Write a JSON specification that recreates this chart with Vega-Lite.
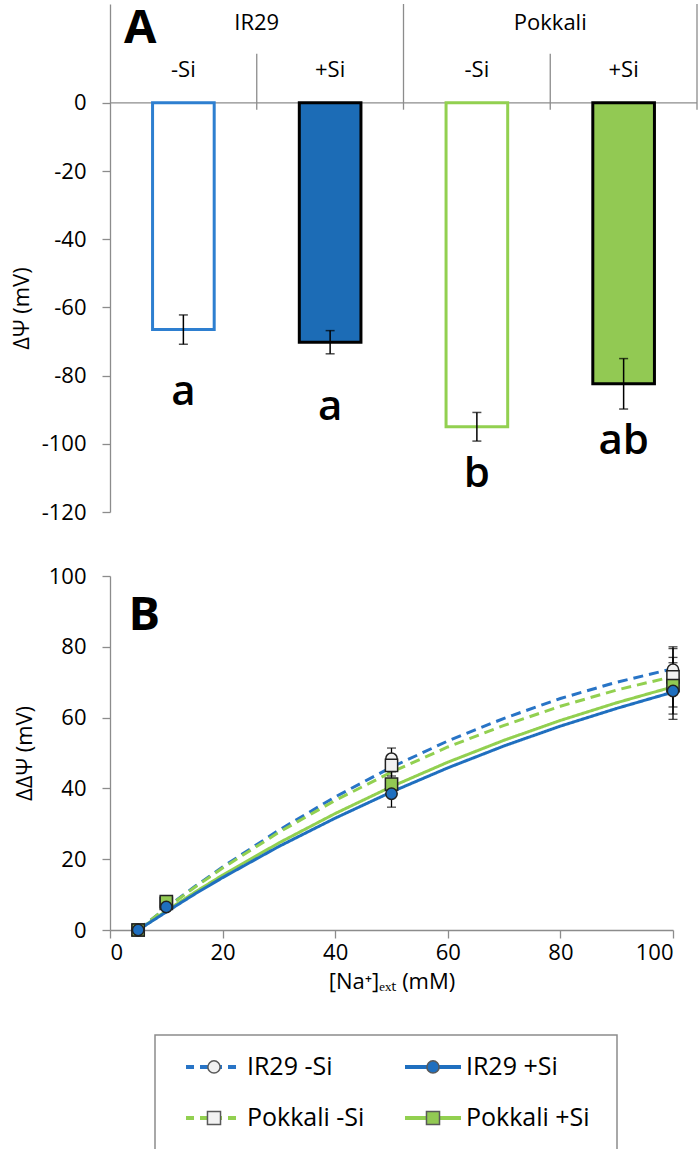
{
  "$schema": "https://vega.github.io/schema/vega-lite/v6.json",
  "background": "white",
  "padding": {"left": 10, "top": 3, "right": 0, "bottom": 0},
  "spacing": 42,
  "config": {
    "view": {"stroke": null},
    "font": "Open Sans",
    "axis": {"grid": false, "domainColor": "#8c8c8c", "domainWidth": 1.3, "tickColor": "#8c8c8c", "tickWidth": 1.3, "tickSize": 8, "labelFont": "Open Sans", "labelFontSize": 22, "labelColor": "#000000", "labelPadding": 16, "titleFont": "Open Sans", "titleFontSize": 22, "titleFontWeight": "normal", "titleColor": "#000000"},
    "text": {"font": "Open Sans", "color": "#000000"}
  },
  "resolve": {"scale": {"x": "independent", "y": "independent", "color": "independent", "fill": "independent", "stroke": "independent", "shape": "independent", "size": "independent", "strokeDash": "independent"}},
  "datasets": {
    "bars": [
      {"grp": "IR29 -Si", "genotype": "IR29", "si": "-Si", "mean": -66.5, "lo": -70.8, "hi": -62.2, "letter": "a", "letter_y": -88.5},
      {"grp": "IR29 +Si", "genotype": "IR29", "si": "+Si", "mean": -70.2, "lo": -73.6, "hi": -66.8, "letter": "a", "letter_y": -92.9},
      {"grp": "Pokkali -Si", "genotype": "Pokkali", "si": "-Si", "mean": -95.0, "lo": -99.2, "hi": -90.8, "letter": "b", "letter_y": -112.8},
      {"grp": "Pokkali +Si", "genotype": "Pokkali", "si": "+Si", "mean": -82.4, "lo": -89.8, "hi": -75.0, "letter": "ab", "letter_y": -103.0}
    ],
    "curves": [
      {"series": "IR29 -Si", "x": 5, "y": 0}, {"series": "IR29 -Si", "x": 10, "y": 6.3}, {"series": "IR29 -Si", "x": 15, "y": 12.2}, {"series": "IR29 -Si", "x": 20, "y": 17.8}, {"series": "IR29 -Si", "x": 30, "y": 28.2}, {"series": "IR29 -Si", "x": 40, "y": 37.6}, {"series": "IR29 -Si", "x": 50, "y": 46.0}, {"series": "IR29 -Si", "x": 60, "y": 53.4}, {"series": "IR29 -Si", "x": 70, "y": 59.8}, {"series": "IR29 -Si", "x": 80, "y": 65.4}, {"series": "IR29 -Si", "x": 90, "y": 70.0}, {"series": "IR29 -Si", "x": 100, "y": 73.8},
      {"series": "Pokkali -Si", "x": 5, "y": 0}, {"series": "Pokkali -Si", "x": 10, "y": 6.2}, {"series": "Pokkali -Si", "x": 15, "y": 12.0}, {"series": "Pokkali -Si", "x": 20, "y": 17.5}, {"series": "Pokkali -Si", "x": 30, "y": 27.6}, {"series": "Pokkali -Si", "x": 40, "y": 36.6}, {"series": "Pokkali -Si", "x": 50, "y": 44.6}, {"series": "Pokkali -Si", "x": 60, "y": 51.7}, {"series": "Pokkali -Si", "x": 70, "y": 57.8}, {"series": "Pokkali -Si", "x": 80, "y": 63.2}, {"series": "Pokkali -Si", "x": 90, "y": 67.8}, {"series": "Pokkali -Si", "x": 100, "y": 71.6},
      {"series": "Pokkali +Si", "x": 5, "y": 0}, {"series": "Pokkali +Si", "x": 10, "y": 5.4}, {"series": "Pokkali +Si", "x": 15, "y": 10.6}, {"series": "Pokkali +Si", "x": 20, "y": 15.5}, {"series": "Pokkali +Si", "x": 30, "y": 24.6}, {"series": "Pokkali +Si", "x": 40, "y": 32.9}, {"series": "Pokkali +Si", "x": 50, "y": 40.5}, {"series": "Pokkali +Si", "x": 60, "y": 47.4}, {"series": "Pokkali +Si", "x": 70, "y": 53.6}, {"series": "Pokkali +Si", "x": 80, "y": 59.2}, {"series": "Pokkali +Si", "x": 90, "y": 64.2}, {"series": "Pokkali +Si", "x": 100, "y": 68.7},
      {"series": "IR29 +Si", "x": 5, "y": 0}, {"series": "IR29 +Si", "x": 10, "y": 5.1}, {"series": "IR29 +Si", "x": 15, "y": 10.1}, {"series": "IR29 +Si", "x": 20, "y": 14.8}, {"series": "IR29 +Si", "x": 30, "y": 23.6}, {"series": "IR29 +Si", "x": 40, "y": 31.6}, {"series": "IR29 +Si", "x": 50, "y": 39.0}, {"series": "IR29 +Si", "x": 60, "y": 45.8}, {"series": "IR29 +Si", "x": 70, "y": 52.0}, {"series": "IR29 +Si", "x": 80, "y": 57.6}, {"series": "IR29 +Si", "x": 90, "y": 62.6}, {"series": "IR29 +Si", "x": 100, "y": 67.2}
    ],
    "points": [
      {"series": "IR29 -Si", "genotype": "IR29", "x": 5, "y": 0, "lo": 0, "hi": 0},
      {"series": "IR29 -Si", "genotype": "IR29", "x": 10, "y": 7.0, "lo": 6.0, "hi": 8.0},
      {"series": "IR29 -Si", "genotype": "IR29", "x": 50, "y": 48.4, "lo": 45.4, "hi": 51.4},
      {"series": "IR29 -Si", "genotype": "IR29", "x": 100, "y": 73.5, "lo": 67.5, "hi": 79.5},
      {"series": "Pokkali -Si", "genotype": "Pokkali", "x": 5, "y": 0, "lo": 0, "hi": 0},
      {"series": "Pokkali -Si", "genotype": "Pokkali", "x": 10, "y": 7.5, "lo": 6.5, "hi": 8.5},
      {"series": "Pokkali -Si", "genotype": "Pokkali", "x": 50, "y": 46.5, "lo": 43.5, "hi": 49.5},
      {"series": "Pokkali -Si", "genotype": "Pokkali", "x": 100, "y": 71.5, "lo": 63.0, "hi": 80.0},
      {"series": "Pokkali +Si", "genotype": "Pokkali", "x": 5, "y": 0, "lo": 0, "hi": 0},
      {"series": "Pokkali +Si", "genotype": "Pokkali", "x": 10, "y": 8.0, "lo": 7.0, "hi": 9.0},
      {"series": "Pokkali +Si", "genotype": "Pokkali", "x": 50, "y": 41.2, "lo": 37.7, "hi": 44.7},
      {"series": "Pokkali +Si", "genotype": "Pokkali", "x": 100, "y": 69.0, "lo": 61.0, "hi": 77.0},
      {"series": "IR29 +Si", "genotype": "IR29", "x": 5, "y": 0, "lo": 0, "hi": 0},
      {"series": "IR29 +Si", "genotype": "IR29", "x": 10, "y": 6.5, "lo": 5.5, "hi": 7.5},
      {"series": "IR29 +Si", "genotype": "IR29", "x": 50, "y": 38.5, "lo": 34.7, "hi": 42.3},
      {"series": "IR29 +Si", "genotype": "IR29", "x": 100, "y": 67.5, "lo": 59.5, "hi": 75.5}
    ],
    "legend": [
      {"series": "IR29 -Si", "genotype": "IR29", "si": "-Si"},
      {"series": "IR29 +Si", "genotype": "IR29", "si": "+Si"},
      {"series": "Pokkali -Si", "genotype": "Pokkali", "si": "-Si"},
      {"series": "Pokkali +Si", "genotype": "Pokkali", "si": "+Si"}
    ]
  },
  "vconcat": [
    {
      "width": 587,
      "height": 508,
      "layer": [
        {
          "data": {"values": [{"z": 0}]},
          "mark": {"type": "rule", "color": "#8c8c8c", "strokeWidth": 1.3},
          "encoding": {
            "y": {"field": "z", "type": "quantitative", "title": "ΔΨ (mV)", "scale": {"domain": [-120, 29], "nice": false, "zero": false},
                  "axis": {"values": [-120, -100, -80, -60, -40, -20, 0], "labelExpr": "'' + datum.value", "titleY": 304, "titlePadding": 8}}
          }
        },
        {
          "data": {"name": "bars"},
          "transform": [{"filter": "datum.si == '-Si'"}],
          "mark": {"type": "rule", "color": "#8c8c8c", "strokeWidth": 1.3},
          "encoding": {
            "x": {"field": "grp", "type": "nominal", "bandPosition": 1, "scale": {"domain": ["IR29 -Si", "IR29 +Si", "Pokkali -Si", "Pokkali +Si"], "paddingInner": 0, "paddingOuter": 0}, "axis": null},
            "y": {"datum": 14.4, "type": "quantitative", "title": "ΔΨ (mV)"},
            "y2": {"datum": -2}
          }
        },
        {
          "data": {"name": "bars"},
          "transform": [{"filter": "datum.si == '+Si'"}],
          "mark": {"type": "rule", "color": "#8c8c8c", "strokeWidth": 1.3},
          "encoding": {
            "x": {"field": "grp", "type": "nominal", "bandPosition": 1, "axis": null},
            "y": {"datum": 29, "type": "quantitative", "title": "ΔΨ (mV)"},
            "y2": {"datum": -2}
          }
        },
        {
          "data": {"name": "bars"},
          "mark": {"type": "bar", "width": {"band": 0.42}, "strokeWidth": 3},
          "encoding": {
            "x": {"field": "grp", "type": "nominal", "axis": null},
            "y": {"field": "mean", "type": "quantitative", "title": "ΔΨ (mV)"},
            "y2": {"datum": 0},
            "fill": {"field": "grp", "type": "nominal", "scale": {"domain": ["IR29 -Si", "IR29 +Si", "Pokkali -Si", "Pokkali +Si"], "range": ["#ffffff", "#1c6cb6", "#ffffff", "#92c953"]}, "legend": null},
            "stroke": {"field": "grp", "type": "nominal", "scale": {"domain": ["IR29 -Si", "IR29 +Si", "Pokkali -Si", "Pokkali +Si"], "range": ["#2e7fd0", "#000000", "#92d050", "#000000"]}, "legend": null}
          }
        },
        {
          "data": {"name": "bars"},
          "mark": {"type": "rule", "color": "#000000", "strokeWidth": 1.5},
          "encoding": {
            "x": {"field": "grp", "type": "nominal", "axis": null},
            "y": {"field": "lo", "type": "quantitative", "title": "ΔΨ (mV)"},
            "y2": {"field": "hi"}
          }
        },
        {
          "data": {"name": "bars"},
          "mark": {"type": "tick", "orient": "horizontal", "color": "#000000", "size": 9, "thickness": 1.5},
          "encoding": {
            "x": {"field": "grp", "type": "nominal", "axis": null},
            "y": {"field": "lo", "type": "quantitative", "title": "ΔΨ (mV)"}
          }
        },
        {
          "data": {"name": "bars"},
          "mark": {"type": "tick", "orient": "horizontal", "color": "#000000", "size": 9, "thickness": 1.5},
          "encoding": {
            "x": {"field": "grp", "type": "nominal", "axis": null},
            "y": {"field": "hi", "type": "quantitative", "title": "ΔΨ (mV)"}
          }
        },
        {
          "data": {"name": "bars"},
          "mark": {"type": "text", "fontSize": 42, "fontWeight": 600, "baseline": "alphabetic", "align": "center"},
          "encoding": {
            "x": {"field": "grp", "type": "nominal", "axis": null},
            "y": {"field": "letter_y", "type": "quantitative", "title": "ΔΨ (mV)"},
            "text": {"field": "letter"}
          }
        },
        {
          "data": {"name": "bars"},
          "transform": [{"filter": "datum.si == '-Si'"}],
          "mark": {"type": "text", "fontSize": 22, "baseline": "middle", "align": "center"},
          "encoding": {
            "x": {"field": "grp", "type": "nominal", "bandPosition": 1, "axis": null},
            "y": {"datum": 23.5, "type": "quantitative", "title": "ΔΨ (mV)"},
            "text": {"field": "genotype"}
          }
        },
        {
          "data": {"name": "bars"},
          "mark": {"type": "text", "fontSize": 22, "baseline": "middle", "align": "center"},
          "encoding": {
            "x": {"field": "grp", "type": "nominal", "axis": null},
            "y": {"datum": 9.5, "type": "quantitative", "title": "ΔΨ (mV)"},
            "text": {"field": "si"}
          }
        },
        {
          "data": {"values": [{"t": "A", "grp": "IR29 -Si"}]},
          "mark": {"type": "text", "fontSize": 47, "fontWeight": "bold", "baseline": "alphabetic", "align": "left", "dx": 14},
          "encoding": {
            "x": {"field": "grp", "type": "nominal", "bandPosition": 0, "axis": null},
            "y": {"datum": 17.6, "type": "quantitative", "title": "ΔΨ (mV)"},
            "text": {"field": "t"}
          }
        }
      ]
    },
    {
      "width": 563,
      "height": 354,
      "layer": [
        {
          "data": {"name": "curves"},
          "mark": {"type": "line", "strokeWidth": 3},
          "encoding": {
            "x": {"field": "x", "type": "quantitative", "title": "[Na⁺]ₑₓₜ (mM)", "scale": {"domain": [0, 100], "nice": false},
                  "axis": {"values": [0, 20, 40, 60, 80, 100], "labelPadding": 4, "titlePadding": 8}},
            "y": {"field": "y", "type": "quantitative", "title": "ΔΔΨ (mV)", "scale": {"domain": [0, 100], "nice": false},
                  "axis": {"values": [0, 20, 40, 60, 80, 100], "titlePadding": 12}},
            "detail": {"field": "series"},
            "color": {"field": "series", "type": "nominal", "scale": {"domain": ["IR29 -Si", "IR29 +Si", "Pokkali -Si", "Pokkali +Si"], "range": ["#2874c6", "#1f6fbf", "#92d050", "#92d050"]}, "legend": null},
            "strokeDash": {"field": "series", "type": "nominal", "scale": {"domain": ["IR29 -Si", "IR29 +Si", "Pokkali -Si", "Pokkali +Si"], "range": [[10, 6], [1, 0], [10, 6], [1, 0]]}, "legend": null}
          }
        },
        {
          "data": {"name": "points"},
          "mark": {"type": "rule", "color": "#000000", "strokeWidth": 1.3},
          "encoding": {
            "x": {"field": "x", "type": "quantitative", "title": "[Na⁺]ₑₓₜ (mM)"},
            "y": {"field": "lo", "type": "quantitative", "title": "ΔΔΨ (mV)"},
            "y2": {"field": "hi"}
          }
        },
        {
          "data": {"name": "points"},
          "mark": {"type": "tick", "orient": "horizontal", "color": "#000000", "size": 9, "thickness": 1.3},
          "encoding": {
            "x": {"field": "x", "type": "quantitative", "title": "[Na⁺]ₑₓₜ (mM)"},
            "y": {"field": "lo", "type": "quantitative", "title": "ΔΔΨ (mV)"}
          }
        },
        {
          "data": {"name": "points"},
          "mark": {"type": "tick", "orient": "horizontal", "color": "#000000", "size": 9, "thickness": 1.3},
          "encoding": {
            "x": {"field": "x", "type": "quantitative", "title": "[Na⁺]ₑₓₜ (mM)"},
            "y": {"field": "hi", "type": "quantitative", "title": "ΔΔΨ (mV)"}
          }
        },
        {
          "data": {"name": "points"},
          "mark": {"type": "point", "filled": true, "stroke": "#222222", "strokeWidth": 1.5, "opacity": 1},
          "encoding": {
            "x": {"field": "x", "type": "quantitative", "title": "[Na⁺]ₑₓₜ (mM)"},
            "y": {"field": "y", "type": "quantitative", "title": "ΔΔΨ (mV)"},
            "shape": {"field": "genotype", "type": "nominal", "scale": {"domain": ["IR29", "Pokkali"], "range": ["circle", "square"]}, "legend": null},
            "size": {"field": "genotype", "type": "nominal", "scale": {"domain": ["IR29", "Pokkali"], "range": [130, 150]}, "legend": null},
            "fill": {"field": "series", "type": "nominal", "scale": {"domain": ["IR29 -Si", "IR29 +Si", "Pokkali -Si", "Pokkali +Si"], "range": ["#f2f2f2", "#1f6fbf", "#f2f2f2", "#92c953"]}, "legend": null}
          }
        },
        {
          "data": {"values": [{"t": "B"}]},
          "mark": {"type": "text", "fontSize": 47, "fontWeight": "bold", "baseline": "alphabetic", "align": "left"},
          "encoding": {
            "x": {"datum": 3.3, "type": "quantitative", "title": "[Na⁺]ₑₓₜ (mM)"},
            "y": {"datum": 84.7, "type": "quantitative", "title": "ΔΔΨ (mV)"},
            "text": {"field": "t"}
          }
        }
      ]
    },
    {
      "spacing": 0,
      "hconcat": [
        {
          "width": 44,
          "height": 10,
          "data": {"values": [{"s": ""}]},
          "mark": {"type": "text", "opacity": 0},
          "encoding": {"text": {"field": "s"}}
        },
        {
          "width": 462,
          "height": 115,
          "view": {"stroke": "#8c8c8c", "strokeWidth": 1.5},
          "data": {"name": "legend"},
          "encoding": {
            "y": {"field": "genotype", "type": "nominal", "bandPosition": 0.5, "scale": {"domain": ["IR29", "Pokkali"], "paddingInner": 0, "paddingOuter": 0.127}, "axis": null}
          },
          "layer": [
            {
              "mark": {"type": "rule", "strokeWidth": 4},
              "encoding": {
                "x": {"field": "si", "type": "nominal", "bandPosition": 0.0868, "scale": {"domain": ["-Si", "+Si"], "paddingInner": 0, "paddingOuter": 0.0548}, "axis": null},
                "x2": {"field": "si", "bandPosition": 0.3425},
                "color": {"field": "series", "type": "nominal", "scale": {"domain": ["IR29 -Si", "IR29 +Si", "Pokkali -Si", "Pokkali +Si"], "range": ["#2874c6", "#1f6fbf", "#92d050", "#92d050"]}, "legend": null},
                "strokeDash": {"field": "si", "type": "nominal", "scale": {"domain": ["-Si", "+Si"], "range": [[8, 6], [1, 0]]}, "legend": null}
              }
            },
            {
              "mark": {"type": "point", "filled": true, "stroke": "#595959", "strokeWidth": 1.5, "opacity": 1},
              "encoding": {
                "x": {"field": "si", "type": "nominal", "bandPosition": 0.2146, "axis": null},
                "shape": {"field": "genotype", "type": "nominal", "scale": {"domain": ["IR29", "Pokkali"], "range": ["circle", "square"]}, "legend": null},
                "size": {"field": "genotype", "type": "nominal", "scale": {"domain": ["IR29", "Pokkali"], "range": [150, 170]}, "legend": null},
                "fill": {"field": "series", "type": "nominal", "scale": {"domain": ["IR29 -Si", "IR29 +Si", "Pokkali -Si", "Pokkali +Si"], "range": ["#f2f2f2", "#1f6fbf", "#f2f2f2", "#92c953"]}, "legend": null}
              }
            },
            {
              "mark": {"type": "text", "fontSize": 25, "align": "left", "baseline": "middle"},
              "encoding": {
                "x": {"field": "si", "type": "nominal", "bandPosition": 0.365, "axis": null},
                "text": {"field": "series"}
              }
            }
          ]
        },
        {
          "width": 81,
          "height": 10,
          "data": {"values": [{"s": ""}]},
          "mark": {"type": "text", "opacity": 0},
          "encoding": {"text": {"field": "s"}}
        }
      ]
    }
  ]
}
